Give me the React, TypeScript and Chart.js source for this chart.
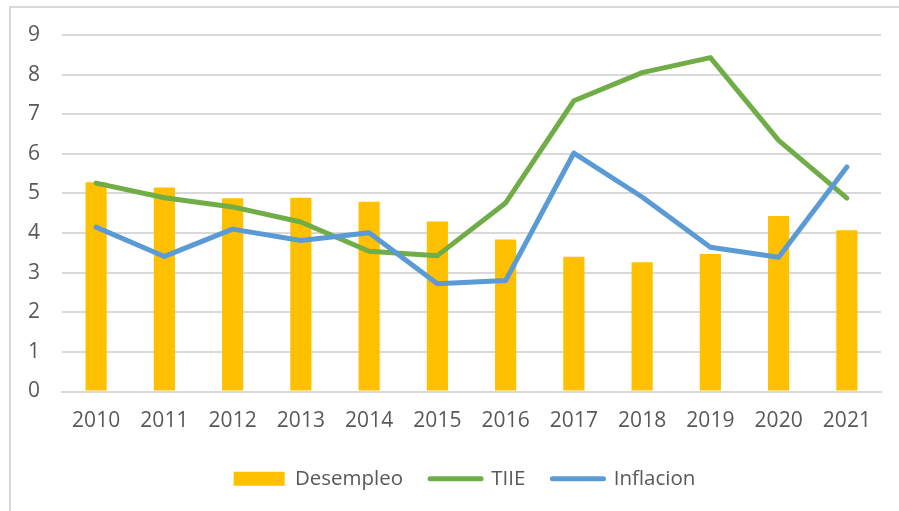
import React, { useEffect, useRef } from "react";
import { Chart, registerables } from "chart.js";

Chart.register(...registerables);

const categories = ["2010", "2011", "2012", "2013", "2014", "2015", "2016", "2017", "2018", "2019", "2020", "2021"];
const desempleo = [5.28, 5.15, 4.88, 4.89, 4.79, 4.29, 3.84, 3.4, 3.26, 3.47, 4.43, 4.07];
const tiie = [5.26, 4.89, 4.66, 4.28, 3.54, 3.43, 4.76, 7.34, 8.05, 8.43, 6.34, 4.88];
const inflacion = [4.15, 3.41, 4.1, 3.81, 4.01, 2.72, 2.8, 6.02, 4.91, 3.64, 3.39, 5.67];
const yTicks = [0, 1, 2, 3, 4, 5, 6, 7, 8, 9];

const FONT = "'Open Sans', sans-serif";
const TEXT = "#595959";
const GRID = "#d9d9d9";

const borderPlugin = {
  id: "outerBorder",
  afterLayout(chart: any) {
    if (chart.legend) {
      chart.legend.left += 24;
      chart.legend.right += 24;
    }
  },
  beforeDraw(chart: any) {
    const ctx = chart.ctx;
    ctx.save();
    ctx.strokeStyle = GRID;
    ctx.lineWidth = 2;
    ctx.beginPath();
    ctx.moveTo(10, 511);
    ctx.lineTo(10, 7);
    ctx.lineTo(899, 7);
    ctx.stroke();
    ctx.restore();
  },
};

export default function App() {
  const ref = useRef<HTMLCanvasElement>(null);
  useEffect(() => {
    if (!ref.current) return;
    const chart = new Chart(ref.current, {
      type: "bar",
      data: {
        labels: categories,
        datasets: [
          {
            type: "bar",
            label: "Desempleo",
            data: desempleo,
            backgroundColor: "#FFC000",
            barPercentage: 0.31,
            categoryPercentage: 1,
            order: 3,
          },
          {
            type: "line",
            label: "TIIE",
            data: tiie,
            borderColor: "#70AD47",
            backgroundColor: "#70AD47",
            borderWidth: 5,
            pointRadius: 0,
            tension: 0,
            borderCapStyle: "round",
            borderJoinStyle: "round",
            order: 2,
          },
          {
            type: "line",
            label: "Inflacion",
            data: inflacion,
            borderColor: "#5B9BD5",
            backgroundColor: "#5B9BD5",
            borderWidth: 5,
            pointRadius: 0,
            tension: 0,
            borderCapStyle: "round",
            borderJoinStyle: "round",
            order: 1,
          },
        ],
      },
      options: {
        animation: false,
        responsive: false,
        maintainAspectRatio: false,
        layout: { padding: { top: 35, right: 18, left: 0, bottom: 12 } },
        plugins: {
          tooltip: { enabled: false },
          legend: {
            position: "bottom",
            labels: {
              font: { family: FONT, size: 20.5 },
              color: TEXT,
              usePointStyle: true,
              pointStyleWidth: 51,
              boxHeight: 14,
              padding: 27,
              generateLabels: (ch: any) =>
                ch.data.datasets.map((ds: any, i: number) => ({
                  text: ds.label,
                  fillStyle: ds.backgroundColor,
                  strokeStyle: ds.type === "line" ? ds.borderColor : ds.backgroundColor,
                  lineWidth: ds.type === "line" ? 5 : 0,
                  lineCap: "round",
                  pointStyle: ds.type === "line" ? "line" : "rect",
                  fontColor: TEXT,
                  hidden: false,
                  datasetIndex: i,
                })),
            },
          },
        },
        scales: {
          x: {
            afterFit: (s: any) => {
              s.height = 50;
            },
            grid: { display: false, drawTicks: false },
            border: { display: true, color: GRID, width: 2 },
            ticks: { font: { family: FONT, size: 21 }, color: TEXT, padding: 17 },
          },
          y: {
            min: 0,
            max: 9,
            afterFit: (s: any) => {
              s.width = 62;
            },
            afterBuildTicks: (s: any) => {
              s.ticks = yTicks.map((v) => ({ value: v }));
            },
            grid: { color: GRID, lineWidth: 2, drawTicks: false },
            border: { display: false },
            ticks: { font: { family: FONT, size: 21 }, color: TEXT, padding: 22 },
          },
        },
      },
      plugins: [borderPlugin],
    });
    return () => chart.destroy();
  }, []);
  return (
    <div style={{ position: "fixed", left: 0, top: 0, width: 899, height: 511, background: "#fff" }}>
      <canvas ref={ref} width={899} height={511} style={{ width: 899, height: 511 }} />
    </div>
  );
}
